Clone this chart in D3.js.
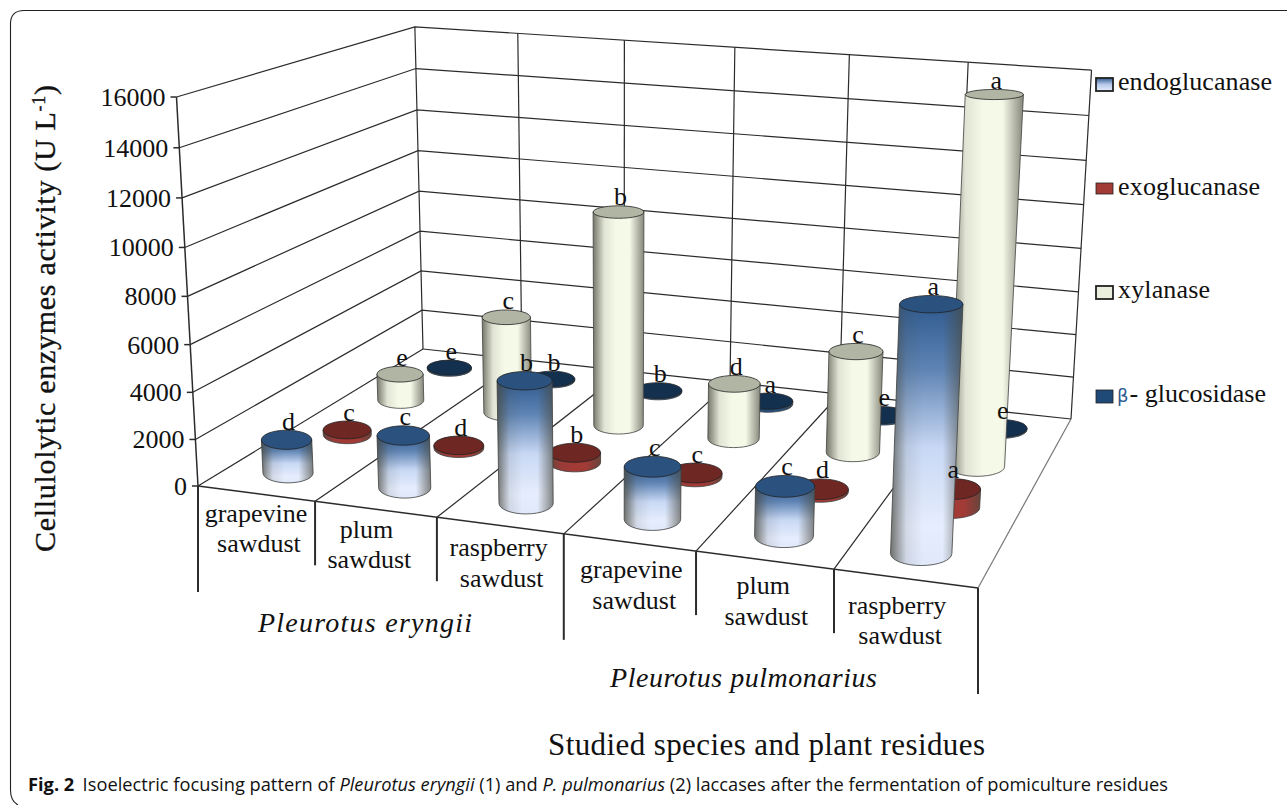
<!DOCTYPE html>
<html><head><meta charset="utf-8">
<script src="https://cdnjs.cloudflare.com/ajax/libs/d3/7.8.5/d3.min.js"></script>
<style>html,body{margin:0;padding:0;background:#fff}svg{display:block}
text{font-family:"Liberation Serif",serif;fill:#111}</style></head><body>
<script>
const categories = ["grapevine sawdust","plum sawdust","raspberry sawdust","grapevine sawdust ","plum sawdust ","raspberry sawdust "];
const seriesNames = ["endoglucanase","exoglucanase","xylanase","β-glucosidase"];
const species = ["Pleurotus eryngii","Pleurotus pulmonarius"];
const yTicks = [0,2000,4000,6000,8000,10000,12000,14000,16000];
const endoglucanase = [1450,2250,5150,2200,2050,9860];
const exoglucanase  = [220,130,425,170,120,800];
const xylanase      = [1250,4480,9750,2520,4550,16000];
const betaGlucosidase = [70,70,70,140,80,70];
const endoLetters = ["d","c","b","c","c","a"];
const exoLetters  = ["c","d","b","c","d","a"];
const xylLetters  = ["e","c","b","d","c","a"];
const betaLetters = ["e","b","b","a","e","e"];

const W=1287,H=805;
const svg=d3.select("body").append("svg").attr("width",W).attr("height",H);
const defs=svg.append("defs");

// projective frame of the 3D box
const FL=[198,486],FR=[978,588],BR=[1071,419],BL=[423,349],VP=[619,8100],TOPY=97;
const sx=FL[0]-FR[0]+BR[0]-BL[0], sy=FL[1]-FR[1]+BR[1]-BL[1];
const dx1=FR[0]-BR[0],dx2=BL[0]-BR[0],dy1=FR[1]-BR[1],dy2=BL[1]-BR[1];
const den=dx1*dy2-dx2*dy1;
const g=(sx*dy2-dx2*sy)/den,h=(dx1*sy-sx*dy1)/den;
const a=FR[0]-FL[0]+g*FR[0],b=BL[0]-FL[0]+h*BL[0],c=FL[0];
const d=FR[1]-FL[1]+g*FR[1],e=BL[1]-FL[1]+h*BL[1],f=FL[1];
const k=(TOPY-FL[1])/(VP[1]-TOPY);
function P(u0,v,t){
  const u=u0-0.02*u0*(1-u0);
  const w=g*u+h*v+1+t*k;
  return [(a*u+b*v+c+t*k*VP[0])/w,(d*u+e*v+f+t*k*VP[1])/w];
}
const uScale=d3.scaleBand().domain(categories).range([0,1]);
const vScale=d3.scalePoint().domain(seriesNames).range([0.125,0.875]);
const tScale=d3.scaleLinear().domain([0,16000]).range([0,1]);
const line=d3.line();
const ink="#2b2b2b";

// frame
svg.append("path").attr("d","M1287,10.5H24Q10.5,10.5 10.5,24V790Q10.5,801 18,805")
  .attr("fill","none").attr("stroke","#222").attr("stroke-width",1.1);

// gradients
function grad(id,x2,y2,stops){
  const gr=defs.append("linearGradient").attr("id",id).attr("x1",0).attr("y1",0).attr("x2",x2).attr("y2",y2);
  stops.forEach(s=>gr.append("stop").attr("offset",s[0]).attr("stop-color",s[1]).attr("stop-opacity",s[2]===undefined?1:s[2]));
}
grad("gEndo",0,1,[[0,"#2f5a8e"],[.25,"#5f84b4"],[.55,"#c8d8f4"],[.85,"#e6edfd"],[1,"#e0e8fa"]]);
grad("gExo",0,0,[[0,"#a23a36"],[1,"#a23a36"]]);
grad("gXyl",0,0,[[0,"#f5f9e8"],[1,"#f5f9e8"]]);
grad("gBeta",0,0,[[0,"#234e7d"],[1,"#234e7d"]]);
grad("gEdge",1,0,[[0,"#4a4a40",.75],[.22,"#4a4a40",.12],[.45,"#4a4a40",0],[.72,"#4a4a40",0],[1,"#4a4a40",.65]]);
grad("gLegEndo",0,1,[[0,"#2f5a8e"],[.5,"#b6c9ea"],[1,"#e6edfd"]]);

// walls
const wallG=svg.append("g").attr("fill","none").attr("stroke",ink).attr("stroke-width",1.2);
wallG.selectAll(".grid").data(yTicks.slice(1)).join("path").attr("class","grid")
  .attr("d",t=>line([P(0,0,tScale(t)),P(0,1,tScale(t)),P(1,1,tScale(t))]));
const uEdges=[...categories.map(cat=>uScale(cat)),1];
wallG.selectAll(".vert").data(uEdges).join("path").attr("class","vert")
  .attr("d",u=>line([P(u,1,0),P(u,1,1)]));
wallG.selectAll(".floor").data(uEdges).join("path").attr("class","floor")
  .attr("stroke",(u,i)=>i===6?"#777":ink)
  .attr("d",u=>line([P(u,0,0),P(u,1,0)]));
wallG.append("path").attr("d",line([P(0,1,0),P(1,1,0)]));
wallG.append("path").attr("stroke-width",1.5).attr("d",line([P(0,0,0),P(1,0,0)]));
wallG.append("path").attr("stroke-width",1.5).attr("d",line([P(0,0,0),P(0,0,1)]));
// y ticks + labels
const tickG=svg.append("g");
tickG.selectAll("path").data(yTicks).join("path").attr("stroke",ink).attr("stroke-width",1.5)
  .attr("d",t=>{const p=P(0,0,tScale(t));return line([[p[0]-6,p[1]],p]);});
tickG.selectAll("text").data(yTicks).join("text").attr("font-size",26)
  .attr("text-anchor","end")
  .attr("x",t=>P(0,0,tScale(t))[0]-11).attr("y",t=>P(0,0,tScale(t))[1]+9)
  .text(t=>t);

// multi-level category ticks
const longTick=[0,3,6];
svg.append("g").selectAll("path").data(uEdges).join("path")
  .attr("fill","none").attr("stroke",ink).attr("stroke-width",2)
  .attr("d",(u,i)=>{const p=P(u,0,0);return line([p,[p[0],p[1]+(longTick.includes(i)?106:64)]]);});

// category labels
const nudgeX=[0,-9,-1,2,-1,-8], nudgeY=[28,28.5,31,36,34,35.5];
const catG=svg.append("g").selectAll("g").data(categories).join("g").attr("transform",(cat,i)=>{
  const p=P(uScale(cat)+uScale.bandwidth()/2,0,0);
  return `translate(${p[0]+nudgeX[i]},${p[1]+nudgeY[i]})`;
});
catG.selectAll("text").data(cat=>cat.trim().split(" ")).join("text").attr("font-size",26)
  .attr("text-anchor","middle").attr("x",(s,i)=>i*3).attr("y",(s,i)=>i*30.5).text(s=>s);

// species labels
svg.append("text").attr("x",258).attr("y",632).attr("font-size",28).attr("font-style","italic")
  .attr("textLength",214).text(species[0]);
svg.append("text").attr("x",610).attr("y",687).attr("font-size",28).attr("font-style","italic")
  .attr("textLength",267).text(species[1]);

// cylinders
const rU=0.0365,rV=0.062;
const rows=[
  {name:"β-glucosidase",vals:betaGlucosidase,letters:betaLetters,side:"gBeta",top:"#14304f"},
  {name:"xylanase",vals:xylanase,letters:xylLetters,side:"gXyl",top:"#b1b5a3"},
  {name:"exoglucanase",vals:exoglucanase,letters:exoLetters,side:"gExo",top:"#6f2724"},
  {name:"endoglucanase",vals:endoglucanase,letters:endoLetters,side:"gEndo",top:"#2b527f"}
];
function ellipseAt(u,v,t){
  const c0=P(u,v,t),l=P(u-rU,v,t),r=P(u+rU,v,t),n=P(u,v+rV,t),s=P(u,v-rV,t);
  return {x:c0[0],y:c0[1],rx:(r[0]-l[0])/2,ry:Math.abs(s[1]-n[1])/2};
}
const labelData=[];
rows.forEach(row=>{
  const v=vScale(row.name);
  const gRow=svg.append("g");
  const items=categories.map((cat,i)=>{
    const u=uScale(cat)+uScale.bandwidth()/2;
    return {base:ellipseAt(u,v,0),top:ellipseAt(u,v,tScale(row.vals[i])),letter:row.letters[i]};
  });
  const sidePath=q=>`M${q.top.x-q.top.rx},${q.top.y}L${q.base.x-q.base.rx},${q.base.y}`+
    `A${q.base.rx},${q.base.ry} 0 0 0 ${q.base.x+q.base.rx},${q.base.y}L${q.top.x+q.top.rx},${q.top.y}Z`;
  gRow.selectAll(".side").data(items).join("path").attr("class","side").attr("d",sidePath)
    .attr("fill",`url(#${row.side})`).attr("stroke","#3d3d3d").attr("stroke-width",.8);
  gRow.selectAll(".edge").data(items).join("path").attr("class","edge").attr("d",sidePath)
    .attr("fill","url(#gEdge)");
  gRow.selectAll("ellipse").data(items).join("ellipse")
    .attr("cx",q=>q.top.x).attr("cy",q=>q.top.y).attr("rx",q=>q.top.rx).attr("ry",q=>q.top.ry)
    .attr("fill",row.top).attr("stroke","#222").attr("stroke-width",.8);
  items.forEach(q=>labelData.push(q));
});
svg.append("g").selectAll("text").data(labelData).join("text").attr("font-size",26)
  .attr("text-anchor","middle").attr("x",q=>q.top.x+2).attr("y",q=>q.top.y-q.top.ry-0.5).text(q=>q.letter);

// y title
const yt=svg.append("text").attr("transform","translate(55,552) rotate(-90)").attr("font-size",30)
  .attr("textLength",467).attr("stroke","#111").attr("stroke-width",.35);
yt.append("tspan").text("Cellulolytic enzymes activity (U L");
yt.append("tspan").attr("dy",-10).attr("font-size",18).text("-1");
yt.append("tspan").attr("dy",10).text(")");

svg.append("text").attr("x",548).attr("y",755).attr("font-size",31).attr("textLength",437).text("Studied species and plant residues");

// legend
const legendWidths=[154,142,92];
const legend=[
 {t:seriesNames[0],y:78,h:13,fill:"url(#gLegEndo)",by:90,sw:1.8},
 {t:seriesNames[1],y:183,h:11,fill:"#a23a36",by:195,sw:.8},
 {t:seriesNames[2],y:286,h:13,fill:"#e9efdc",by:298,sw:1.8},
 {t:null,y:390,h:13,fill:"#1f4a78",by:402,sw:.8}];
const lg=svg.append("g").selectAll("g").data(legend).join("g");
lg.append("rect").attr("x",1096).attr("y",q=>q.y).attr("width",17).attr("height",q=>q.h)
  .attr("fill",q=>q.fill).attr("stroke","#222").attr("stroke-width",q=>q.sw);
lg.filter(q=>q.t).append("text").attr("x",1118).attr("y",q=>q.by).attr("font-size",26)
  .attr("textLength",(q,i)=>legendWidths[i]).text(q=>q.t);
const lb=svg.append("text").attr("x",1117).attr("y",402).attr("font-size",26);
lb.append("tspan").attr("fill","#2a5a8f").attr("font-size",18).attr("font-family","'DejaVu Sans'").text("β");
lb.append("tspan").attr("dx",1).text("- glucosidase");

// caption
const cap=svg.append("text").attr("x",28).attr("y",791).attr("font-size",17.5).style("font-family","'Open Sans'");
cap.append("tspan").attr("font-weight",700).style("font-family","'Open Sans'").text("Fig. 2");
cap.append("tspan").attr("dx",8).style("font-family","'Open Sans'").text("Isoelectric focusing pattern of ");
cap.append("tspan").attr("font-style","italic").style("font-family","'Open Sans'").text("Pleurotus eryngii");
cap.append("tspan").style("font-family","'Open Sans'").text(" (1) and ");
cap.append("tspan").attr("font-style","italic").style("font-family","'Open Sans'").text("P. pulmonarius");
cap.append("tspan").style("font-family","'Open Sans'").text(" (2) laccases after the fermentation of pomiculture residues");
cap.attr("textLength",1140).attr("lengthAdjust","spacingAndGlyphs");
</script></body></html>
